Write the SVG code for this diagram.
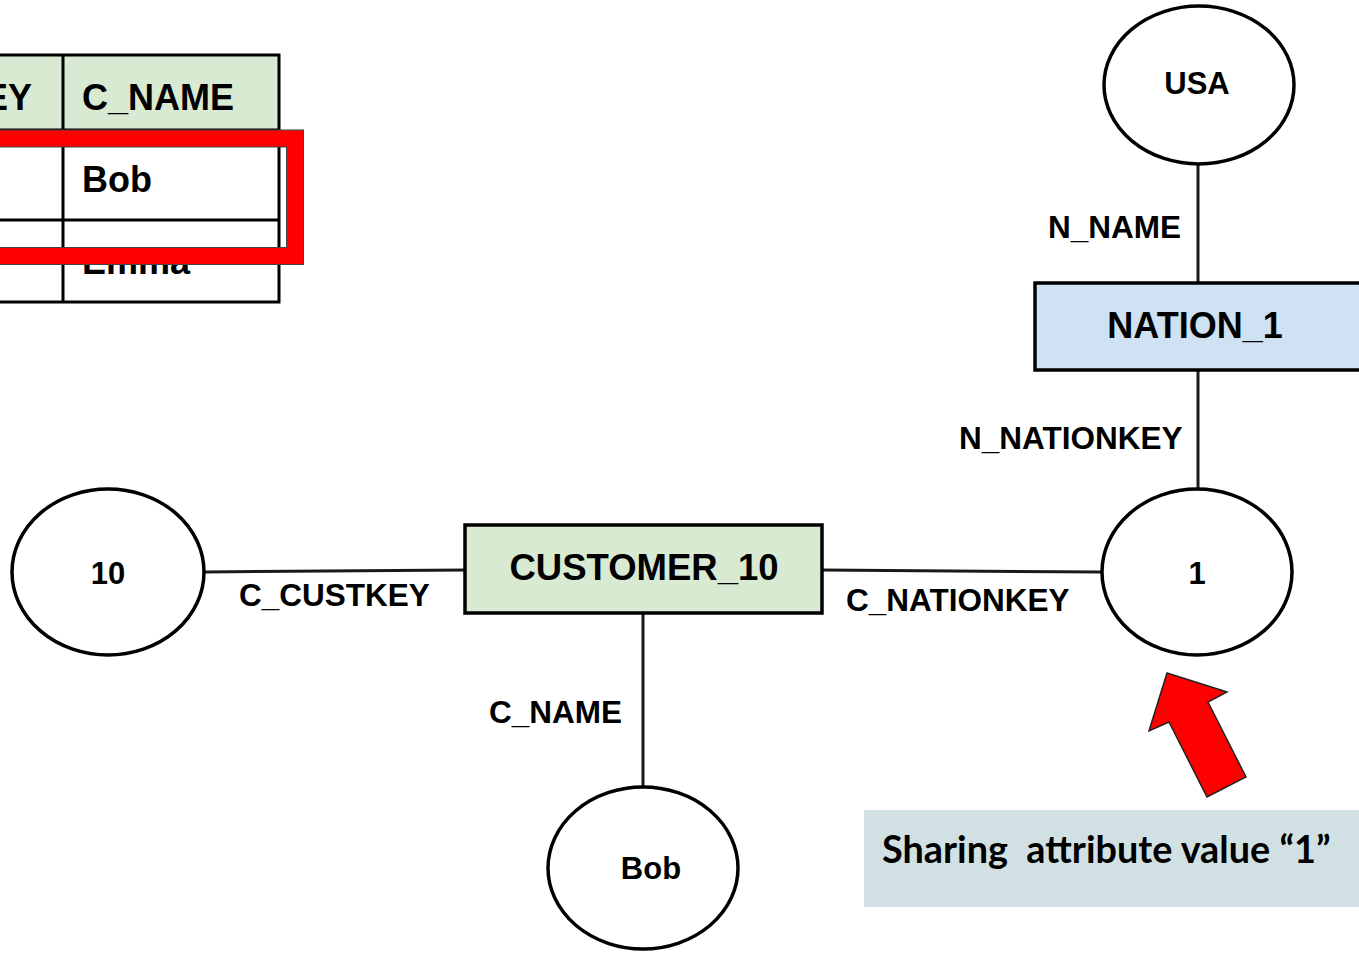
<svg xmlns="http://www.w3.org/2000/svg" width="1359" height="953" viewBox="0 0 1359 953">
  <style>
    .lbl { font-family: "Liberation Sans", Arial, sans-serif; font-weight: bold; fill: #000; }
    .edge { stroke: #1a1a1a; stroke-width: 3; fill: none; }
    .val { fill: #fff; stroke: #000; stroke-width: 3.5; }
    .ent { stroke: #000; stroke-width: 3.5; }
    .grid { stroke: #000; stroke-width: 3; fill: none; }
  </style>

  <rect width="1359" height="953" fill="#fff"/>

  <!-- Fragment of the CUSTOMER table -->
  <g id="customer-table">
    <rect x="-10" y="55" width="289" height="75" fill="#d9ead3"/>
    <rect x="-10" y="55" width="289" height="247" class="grid"/>
    <line x1="-10" y1="130" x2="279" y2="130" class="grid"/>
    <line x1="-10" y1="220" x2="279" y2="220" class="grid"/>
    <line x1="63" y1="55" x2="63" y2="302" class="grid"/>
    <text class="lbl" x="32" y="110" font-size="36" text-anchor="end">C_CUSTKEY</text>
    <text class="lbl" x="82" y="110" font-size="36">C_NAME</text>
    <text class="lbl" x="82" y="192" font-size="36">Bob</text>
    <text class="lbl" x="82" y="274" font-size="36">Emma</text>
  </g>

  <!-- Highlight around the Bob row -->
  <g id="row-highlight">
    <rect x="-20" y="138.5" width="315" height="117.5" fill="none" stroke="#444" stroke-width="18"/>
    <rect x="-20" y="138.5" width="315" height="117.5" fill="none" stroke="#ff0000" stroke-width="16"/>
  </g>

  <!-- Connectors -->
  <g id="connectors">
    <line x1="204" y1="572" x2="466" y2="570" class="edge"/>
    <line x1="822" y1="570" x2="1102" y2="572" class="edge"/>
    <line x1="643" y1="613" x2="643" y2="787" class="edge"/>
    <line x1="1198" y1="164" x2="1198" y2="283" class="edge"/>
    <line x1="1198" y1="370" x2="1198" y2="490" class="edge"/>
    <text class="lbl" x="239" y="606" font-size="31.5">C_CUSTKEY</text>
    <text class="lbl" x="846" y="611" font-size="31.5">C_NATIONKEY</text>
    <text class="lbl" x="489" y="723" font-size="31.5">C_NAME</text>
    <text class="lbl" x="1048" y="238" font-size="31.5">N_NAME</text>
    <text class="lbl" x="959" y="449" font-size="31.5">N_NATIONKEY</text>
  </g>

  <g id="node-usa">
    <ellipse cx="1199" cy="85" rx="95" ry="79" class="val"/>
    <text class="lbl" x="1197" y="94" font-size="31" text-anchor="middle">USA</text>
  </g>

  <g id="node-nation-1">
    <rect x="1035" y="283" width="330" height="87" fill="#cfe2f3" class="ent"/>
    <text class="lbl" x="1195" y="338" font-size="36" text-anchor="middle">NATION_1</text>
  </g>

  <g id="node-10">
    <ellipse cx="108" cy="572" rx="96" ry="83" class="val"/>
    <text class="lbl" x="108" y="584" font-size="31" text-anchor="middle">10</text>
  </g>

  <g id="node-customer-10">
    <rect x="465" y="525" width="357" height="88" fill="#d9ead3" class="ent"/>
    <text class="lbl" x="644" y="580" font-size="36.5" text-anchor="middle">CUSTOMER_10</text>
  </g>

  <g id="node-1">
    <ellipse cx="1197" cy="572" rx="95" ry="83" class="val"/>
    <text class="lbl" x="1197" y="584" font-size="31" text-anchor="middle">1</text>
  </g>

  <g id="node-bob">
    <ellipse cx="643" cy="868" rx="95" ry="81" class="val"/>
    <text class="lbl" x="651" y="879" font-size="31" text-anchor="middle">Bob</text>
  </g>

  <!-- Pointer and caption -->
  <g id="callout">
    <polygon points="1167,673 1227,692 1208,702 1246,777 1207,797 1169,722 1149,731" fill="#ff0000" stroke="#222" stroke-width="1.5" stroke-linejoin="miter"/>
    <rect x="864" y="810" width="500" height="97" fill="#d0e0e3"/>
    <text x="882" y="863" font-family="Lato, 'Open Sans', sans-serif" font-weight="bold" font-size="37.8" fill="#000" xml:space="preserve">Sharing  attribute value “1”</text>
  </g>
</svg>
